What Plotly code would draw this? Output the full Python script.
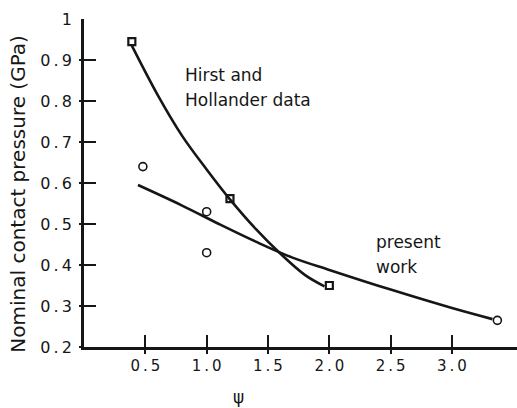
import plotly.graph_objects as go

# Hirst and Hollander data (squares) and fitted curve
hh_x = [0.39, 1.19, 2.0]
hh_y = [0.945, 0.562, 0.35]
hh_curve_x = [0.39, 0.6, 0.8, 1.0, 1.19, 1.4, 1.6, 1.8, 1.96]
hh_curve_y = [0.935, 0.815, 0.715, 0.633, 0.56, 0.488, 0.428, 0.376, 0.348]

# Present work (circles) and fitted curve
pw_x = [0.48, 1.0, 1.0, 3.37]
pw_y = [0.64, 0.53, 0.43, 0.265]
pw_curve_x = [0.44, 0.8, 1.1, 1.4, 1.7, 2.0, 2.5, 3.0, 3.33]
pw_curve_y = [0.595, 0.545, 0.5, 0.457, 0.418, 0.388, 0.34, 0.295, 0.268]

x_ticks = [0.5, 1.0, 1.5, 2.0, 2.5, 3.0]
x_ticklabels = ["0.5", "1.0", "1.5", "2.0", "2.5", "3.0"]
y_ticks = [0.2, 0.3, 0.4, 0.5, 0.6, 0.7, 0.8, 0.9, 1.0]
y_ticklabels = ["0.2", "0.3", "0.4", "0.5", "0.6", "0.7", "0.8", "0.9", "1"]

FONT = "DejaVu Sans"
INK = "#161616"
TS = "\u2009"


def spaced(s):
    return TS.join(list(s))


fig = go.Figure()
fig.add_trace(go.Scatter(x=hh_curve_x, y=hh_curve_y, mode="lines",
                         line=dict(color=INK, width=2.6, shape="spline", smoothing=1.0),
                         showlegend=False, hoverinfo="skip"))
fig.add_trace(go.Scatter(x=pw_curve_x, y=pw_curve_y, mode="lines",
                         line=dict(color=INK, width=2.6, shape="spline", smoothing=1.0),
                         showlegend=False, hoverinfo="skip"))
fig.add_trace(go.Scatter(x=hh_x, y=hh_y, mode="markers",
                         marker=dict(symbol="square-open", size=7, color=INK,
                                     line=dict(width=2.2, color=INK)),
                         showlegend=False))
fig.add_trace(go.Scatter(x=pw_x, y=pw_y, mode="markers",
                         marker=dict(symbol="circle-open", size=8, color=INK,
                                     line=dict(width=1.6, color=INK)),
                         showlegend=False))
# dummy trace so the overlay axes (outer tick halves) are drawn
fig.add_trace(go.Scatter(x=[None], y=[None], xaxis="x2", yaxis="y2",
                         showlegend=False, hoverinfo="skip"))

XR = [0, 3.53]
YR = [0.2, 1.0]

fig.update_layout(
    width=517, height=408,
    margin=dict(l=84, r=0, t=19, b=61),
    paper_bgcolor="white", plot_bgcolor="white",
    font=dict(family=FONT, color=INK),
    xaxis=dict(range=XR, tickvals=x_ticks, ticktext=[spaced(t) for t in x_ticklabels],
               ticks="inside", ticklen=12, tickwidth=2.4, tickcolor=INK,
               showline=True, linewidth=2.6, linecolor=INK,
               showgrid=False, zeroline=False, ticklabelstandoff=3,
               tickfont=dict(size=15, family=FONT, color=INK)),
    yaxis=dict(range=YR, tickvals=y_ticks, ticktext=[spaced(t) for t in y_ticklabels],
               ticks="inside", ticklen=12, tickwidth=2.4, tickcolor=INK,
               showline=True, linewidth=2.6, linecolor=INK,
               showgrid=False, zeroline=False, ticklabelstandoff=6,
               tickfont=dict(size=16, family=FONT, color=INK)),
    xaxis2=dict(range=XR, overlaying="x", side="bottom", anchor="y2",
                tickvals=x_ticks, ticks="outside", ticklen=6, tickwidth=2.4,
                tickcolor=INK, showticklabels=False, showline=False,
                showgrid=False, zeroline=False),
    yaxis2=dict(range=YR, overlaying="y", side="left", anchor="x2",
                tickvals=y_ticks[:-1], ticks="outside", ticklen=4, tickwidth=2.4,
                tickcolor=INK, showticklabels=False, showline=False,
                showgrid=False, zeroline=False),
)

ann_font = dict(family=FONT, size=17, color=INK)
fig.add_annotation(x=0.81, y=0.864, text="Hirst and", showarrow=False,
                   xanchor="left", yanchor="middle", font=ann_font)
fig.add_annotation(x=0.81, y=0.803, text="Hollander data", showarrow=False,
                   xanchor="left", yanchor="middle", font=ann_font)
fig.add_annotation(x=2.365, y=0.457, text="present", showarrow=False,
                   xanchor="left", yanchor="middle", font=ann_font)
fig.add_annotation(x=2.365, y=0.394, text="work", showarrow=False,
                   xanchor="left", yanchor="middle", font=ann_font)
# axis titles
fig.add_annotation(x=1.26, xref="x", y=-0.152, yref="paper", text="ψ",
                   showarrow=False, xanchor="center", yanchor="middle",
                   font=dict(family=FONT, size=17, color=INK))
fig.add_annotation(x=-0.152, xref="paper", y=0.468, yref="paper",
                   text="Nominal contact pressure (GPa)", textangle=-90,
                   showarrow=False, xanchor="center", yanchor="middle",
                   font=dict(family=FONT, size=20, color=INK))

fig.write_html("out.html")
